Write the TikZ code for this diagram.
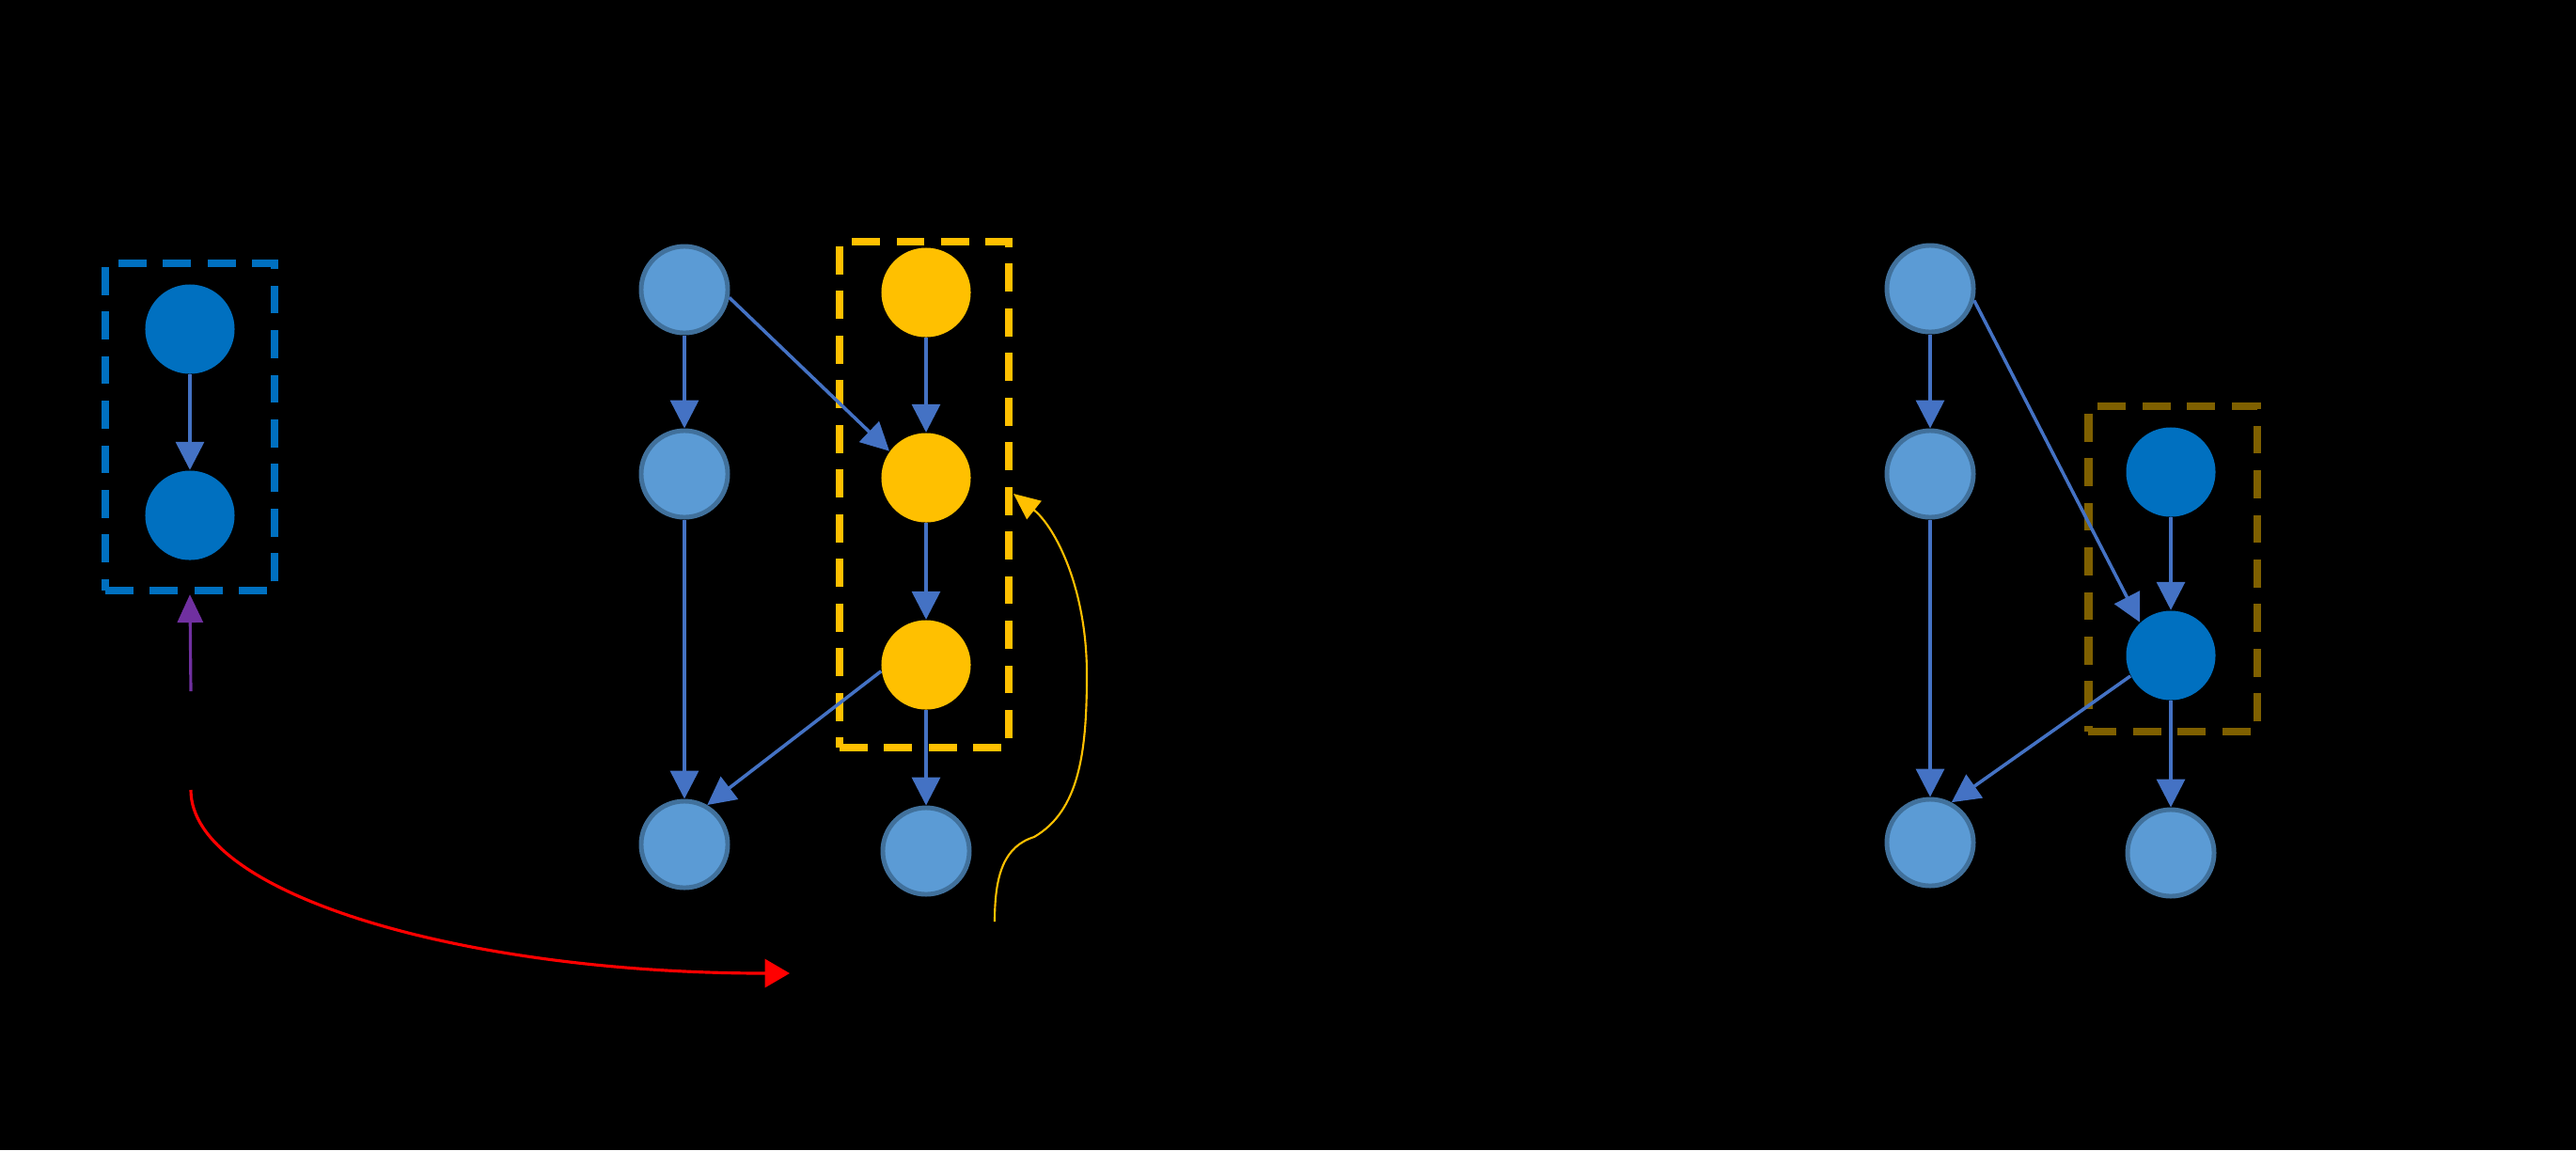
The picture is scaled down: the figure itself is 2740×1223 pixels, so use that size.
\documentclass[tikz,border=0pt]{standalone}
\usepackage{xcolor}
\usetikzlibrary{arrows.meta}
\definecolor{lblue}{HTML}{5B9BD5}
\definecolor{lborder}{HTML}{41719C}
\definecolor{dblue}{HTML}{0070C0}
\definecolor{gold}{HTML}{FFC000}
\definecolor{edgeblue}{HTML}{4472C4}
\definecolor{boxbrown}{HTML}{7F6000}
\definecolor{purp}{HTML}{7030A0}
\tikzset{obs/.style={circle,inner sep=0pt,minimum size=0.92cm,fill=lblue,draw=lborder,line width=1.4pt},
         hid/.style={circle,inner sep=0pt,minimum size=0.95cm,fill=dblue},
         sel/.style={circle,inner sep=0pt,minimum size=0.95cm,fill=gold},
         link/.style={draw=edgeblue,line width=1pt,-{Triangle[length=8.5pt,width=8.5pt]}},
         grp/.style={draw,line width=2.3pt,dash pattern=on 8.5pt off 5pt,inner sep=0pt}
         }

\begin{document}
\begin{tikzpicture}[x=0.01cm,y=-0.01cm]
\fill[black] (0,0) rectangle (2740,1223);

\node[grp,draw=dblue,minimum width=1.8cm,minimum height=3.48cm] (lbox) at (202,454) {};
\node[grp,draw=gold,minimum width=1.8cm,minimum height=5.37cm] (ybox) at (983,526) {};
\node[grp,draw=boxbrown,minimum width=1.79cm,minimum height=3.46cm] (rbox) at (2311,605) {};

\node[hid] (l1) at (202,350) {};
\node[hid] (l2) at (202,548) {};

\node[obs] (m1) at (728,308) {};
\node[obs] (m2) at (728,504) {};
\node[obs] (m3) at (728,898) {};
\node[sel] (y1) at (985,311) {};
\node[sel] (y2) at (985,508) {};
\node[sel] (y3) at (985,707) {};
\node[obs] (m4) at (985,905) {};

\node[obs] (r1) at (2053,307) {};
\node[obs] (r2) at (2053,504) {};
\node[obs] (r3) at (2053,896) {};
\node[hid] (r4) at (2309,502) {};
\node[hid] (r5) at (2309,697) {};
\node[obs] (r6) at (2309,907) {};

\coordinate (ps) at (203,735);
\coordinate (rs) at (203,840);
\coordinate (re) at (840,1035);
\coordinate (ys) at (1058,980);
\coordinate (ye) at (1078,525);

\draw[link] (l1) -- (l2);

\draw[link] (m1) -- (m2);
\draw[link] (m1.-10) -- (y2.144);
\draw[link] (m2) -- (m3.north);
\draw[link] (y1) -- (y2);
\draw[link] (y2) -- (y3);
\draw[link] (y3.188) -- (m3.60);
\draw[link] (y3) -- (m4);

\draw[link] (r1) -- (r2);
\draw[link] (r1.-15) -- (r5.133);
\draw[link] (r2) -- (r3.north);
\draw[link] (r4) -- (r5);
\draw[link] (r5.207) -- (r3.62);
\draw[link] (r5) -- (r6);

\draw[purp,line width=0.9pt,-{Triangle[length=8.5pt,width=7.7pt]}] (ps) -- (lbox.south);
\draw[red,line width=0.9pt,-{Triangle[length=7.5pt,width=8.5pt]}] (rs) .. controls (203,950) and (490,1035) .. (re);
\draw[gold,line width=0.6pt,-{Triangle[length=8pt,width=7pt]}] (ys) .. controls (1058,930) and (1068,900) .. (1100,890)
   .. controls (1148,862) and (1156,800) .. (1156,717) .. controls (1156,625) and (1122,560) .. (ye);
\end{tikzpicture}
\end{document}
